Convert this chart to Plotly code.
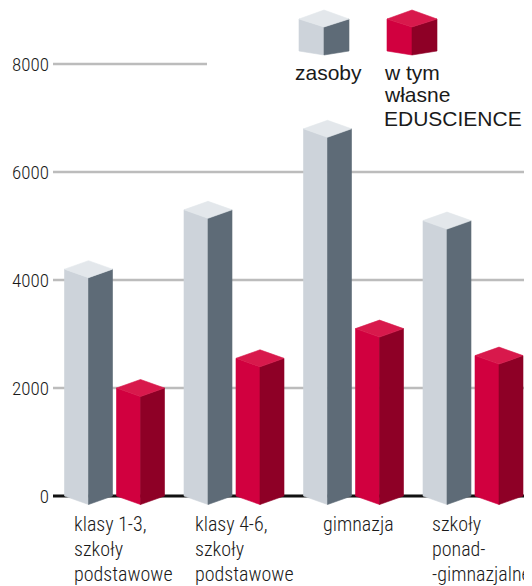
import plotly.graph_objects as go

# ---------------- data ----------------
category_lines = [
    ["klasy 1-3,", "szkoły", "podstawowe"],
    ["klasy 4-6,", "szkoły", "podstawowe"],
    ["gimnazja"],
    ["szkoły", "ponad-", "-gimnazjalne"],
]
zasoby = [4200, 5300, 6800, 5100]
eduscience = [2000, 2550, 3100, 2600]
series_names = ["zasoby", "w tym<br>własne<br>EDUSCIENCE"]
y_ticks = [0, 2000, 4000, 6000, 8000]
y_tick_labels = ["0", "2000", "4000", "6000", "8000"]

# ---------------- styles ----------------
GREY = dict(left="#cdd3da", right="#5e6b77", top="#e3e7eb")
RED = dict(left="#d1003f", right="#8e0026", top="#d8194c")
NARROW = "Roboto Condensed, Liberation Sans Narrow, sans-serif"
SANS = "Liberation Sans, Arial, sans-serif"
TXT = "#1a1a1a"

W_FIG, H_FIG = 532, 586
OFF = 8                   # page body margin offset
PLOT_L = 53               # plot-area left edge in screen pixels
PLOT_R = OFF + W_FIG
PLOT_T = OFF
PLOT_B = OFF + H_FIG
ZERO_PX = 496             # screen row of the value 0
PX_CAT = 119.5            # px per category
PX_Y = 108 / 2000         # px per value unit
X0 = -(114.5 - PLOT_L) / PX_CAT
X1 = X0 + (PLOT_R - PLOT_L) / PX_CAT
Y1 = (ZERO_PX - PLOT_T) / PX_Y
Y0 = -(PLOT_B - ZERO_PX) / PX_Y

BW = 48 / PX_CAT          # box width
GAP = 4 / PX_CAT
DEPTH = 8.5 / PX_Y        # perspective offset of top/bottom faces

fig = go.Figure()


def face(xs, ys, color, xaxis="x", yaxis="y"):
    fig.add_trace(go.Scatter(
        x=xs, y=ys, mode="lines", fill="toself", fillcolor=color,
        line=dict(color=color, width=0.6), hoverinfo="skip",
        showlegend=False, xaxis=xaxis, yaxis=yaxis))


def box(xl, v, col):
    xm, xr = xl + BW / 2, xl + BW
    face([xl, xm, xm, xl, xl], [v, v - DEPTH, -DEPTH, 0, v], col["left"])
    face([xm, xr, xr, xm, xm], [v - DEPTH, v, 0, -DEPTH, v - DEPTH], col["right"])
    face([xl, xm, xr, xm, xl], [v, v + DEPTH, v, v - DEPTH, v], col["top"])


for i, (a, b) in enumerate(zip(zasoby, eduscience)):
    box(i - GAP / 2 - BW, a, GREY)
    box(i + GAP / 2, b, RED)


# legend cubes, drawn on a pixel overlay axis
def legend_cube(xl, col):
    xm, xr = xl + 25, xl + 50
    face([xl, xm, xm, xl, xl], [19, 27, 55, 51, 19], col["left"], "x2", "y2")
    face([xm, xr, xr, xm, xm], [27, 19, 51, 55, 27], col["right"], "x2", "y2")
    face([xl, xm, xr, xm, xl], [19, 10, 19, 27, 19], col["top"], "x2", "y2")


legend_cube(299, GREY)
legend_cube(387, RED)

shapes = []
for t in y_ticks[1:]:
    shapes.append(dict(type="line", xref="paper", yref="y", x0=0,
                       x1=(207 - PLOT_L) / (PLOT_R - PLOT_L) if t == y_ticks[-1] else 1,
                       y0=t, y1=t, line=dict(color="#bcbcbc", width=2.5),
                       layer="below"))
shapes.append(dict(type="line", xref="paper", yref="y", x0=0, x1=1,
                   y0=0, y1=0, line=dict(color="#111111", width=3),
                   layer="below"))

annotations = []
label_dx = [7.5, 9, 17, 7]
line_mid = [523.5, 549, 574]
for i, lines in enumerate(category_lines):
    for j, ln in enumerate(lines):
        annotations.append(dict(
            x=i - GAP / 2 - BW, xshift=label_dx[i], xref="x",
            y=line_mid[j], yref="y2", xanchor="left", yanchor="middle",
            text=ln, showarrow=False,
            font=dict(family=NARROW, size=20, weight=300, color=TXT)))

legend_texts = [(293, [series_names[0]]),
                (382, series_names[1].split("<br>"))]
legend_mid = [72.2, 94.7, 118.5]
for xpx, lines in legend_texts:
    for j, ln in enumerate(lines):
        annotations.append(dict(
            x=xpx, xref="x2", y=legend_mid[j], yref="y2",
            xanchor="left", yanchor="middle", text=ln, showarrow=False,
            font=dict(family=SANS, size=21, color=TXT)))

fig.update_layout(
    width=W_FIG, height=H_FIG,
    margin=dict(l=PLOT_L - OFF, r=0, t=0, b=0, autoexpand=False),
    paper_bgcolor="white", plot_bgcolor="white",
    showlegend=False,
    shapes=shapes, annotations=annotations,
    xaxis=dict(range=[X0, X1], visible=False, fixedrange=True),
    yaxis=dict(range=[Y0, Y1], tickmode="array", tickvals=y_ticks,
               ticktext=y_tick_labels, showgrid=False, zeroline=False,
               showline=False, ticks="", ticklabelstandoff=3,
               tickfont=dict(family=NARROW, size=19, weight=300, color=TXT),
               automargin=False, fixedrange=True),
    xaxis2=dict(range=[PLOT_L, PLOT_R], overlaying="x", visible=False,
                fixedrange=True),
    yaxis2=dict(range=[PLOT_B, PLOT_T], overlaying="y", visible=False,
                fixedrange=True),
)

fig.write_html("out.html")
